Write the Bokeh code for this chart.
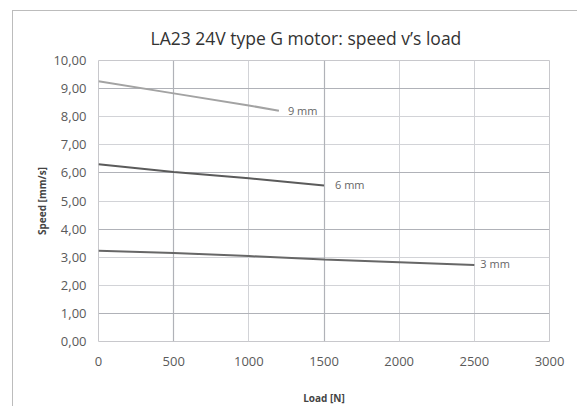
from bokeh.plotting import figure
from bokeh.models import Range1d, FixedTicker, Grid, ColumnDataSource
from bokeh.embed import file_html
from bokeh.resources import INLINE
from bokeh.core.properties import value

# ---- data ----
title_text = "LA23 24V type G motor: speed v\u2019s load"
x_label = "Load [N]"
y_label = "Speed [mm/s]"

x_ticks = [0, 500, 1000, 1500, 2000, 2500, 3000]
y_ticks = [0, 1, 2, 3, 4, 5, 6, 7, 8, 9, 10]
y_tick_labels = ["0,00", "1,00", "2,00", "3,00", "4,00", "5,00",
                 "6,00", "7,00", "8,00", "9,00", "10,00"]

series_names = ["9 mm", "6 mm", "3 mm"]
loads_9 = [0, 500, 1000, 1200]
speed_9 = [9.26, 8.83, 8.40, 8.21]
loads_6 = [0, 500, 1000, 1500]
speed_6 = [6.31, 6.03, 5.81, 5.55]
loads_3 = [0, 500, 1000, 1500, 2000, 2500]
speed_3 = [3.23, 3.15, 3.04, 2.92, 2.82, 2.72]

dark_x_grid = [500, 1500]
dark_y_grid = [1, 4, 6, 9]

FONT = "Open Sans"

p = figure(width=565, height=396, output_backend="svg", toolbar_location=None,
           x_range=Range1d(0, 3000), y_range=Range1d(0, 10),
           min_border_left=85, min_border_right=29,
           min_border_top=49, min_border_bottom=63)
p.margin = (10, 0, 0, 12)
p.styles = {"border-left": "1px solid #bcbcbc", "border-top": "1px solid #bcbcbc"}

p.title.text = title_text
p.title.text_font = FONT
p.title.text_font_size = "17.5px"
p.title.text_font_style = "normal"
p.title.text_color = "#333333"
p.title.align = "left"
p.title.offset = 52
p.title.standoff = 21

p.outline_line_color = "#c8c8cc"
p.background_fill_color = "white"
p.border_fill_color = "white"

# axes
for ax in (p.xaxis[0], p.yaxis[0]):
    ax.axis_line_color = None
    ax.major_tick_line_color = None
    ax.minor_tick_line_color = None
    ax.major_label_text_font = FONT
    ax.major_label_text_font_size = "13px"
    ax.major_label_text_color = "#5a5a5a"
    ax.axis_label_text_font = FONT
    ax.axis_label_text_font_size = "10px"
    ax.axis_label_text_font_style = "bold"
    ax.axis_label_text_color = "#444444"

p.xaxis.ticker = FixedTicker(ticks=x_ticks)
p.yaxis.ticker = FixedTicker(ticks=y_ticks)
p.yaxis.major_label_overrides = {t: lab for t, lab in zip(y_ticks, y_tick_labels)}
p.xaxis.axis_label = x_label
p.yaxis.axis_label = y_label
p.xaxis.major_label_standoff = 9
p.yaxis.major_label_standoff = 6
p.xaxis.axis_label_standoff = 22
p.yaxis.axis_label_standoff = 1

# grids
p.xgrid.grid_line_color = "#d2d3d7"
p.ygrid.grid_line_color = "#d2d3d7"
p.xgrid.grid_line_width = 1
p.ygrid.grid_line_width = 1
p.add_layout(Grid(dimension=0, ticker=FixedTicker(ticks=dark_x_grid),
                  grid_line_color="#b0b2b8", grid_line_width=1.2))
p.add_layout(Grid(dimension=1, ticker=FixedTicker(ticks=dark_y_grid),
                  grid_line_color="#b0b2b8", grid_line_width=1.2))

# series
series = [
    (loads_9, speed_9, "#a3a3a3", 9, 0),
    (loads_6, speed_6, "#5b5b5b", 11, -1),
    (loads_3, speed_3, "#676767", 6, -2),
]
for name, (xs, ys, col, xoff, yoff) in zip(series_names, series):
    p.line(xs, ys, line_color=col, line_width=2)
    src = ColumnDataSource(dict(x=[xs[-1]], y=[ys[-1]], t=[name]))
    p.text(x="x", y="y", text="t", source=src, x_offset=xoff, y_offset=yoff,
           text_font=value(FONT), text_font_size="11px", text_color="#666666",
           text_baseline="middle", text_align="left")

open("out.html", "w").write(file_html(p, INLINE))
